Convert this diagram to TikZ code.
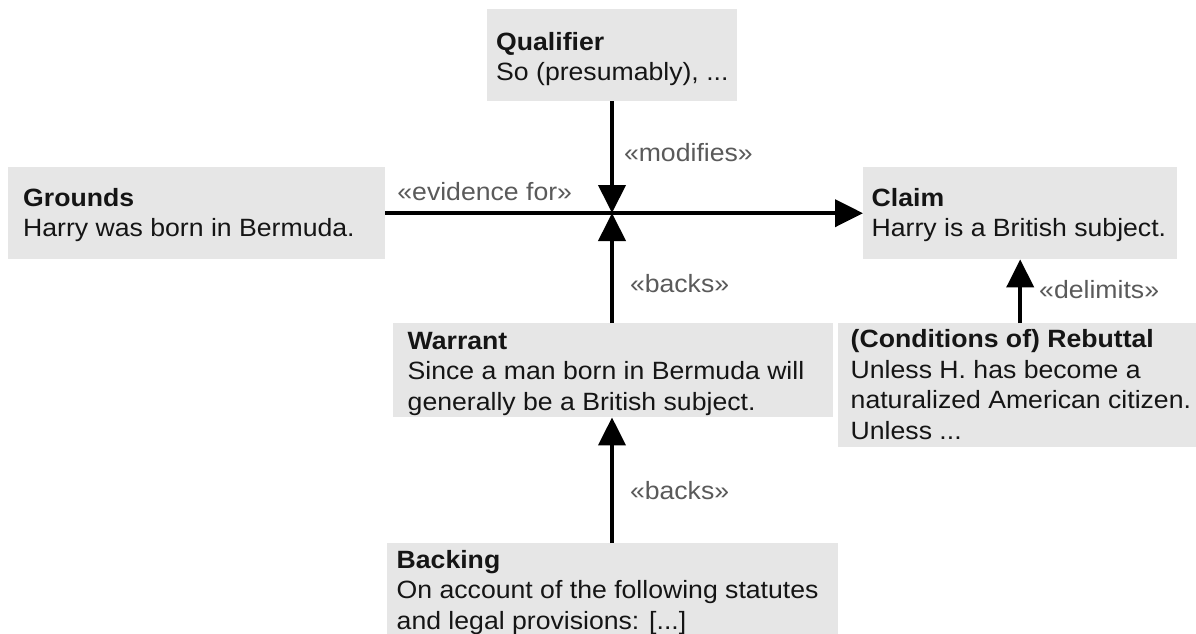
\documentclass[tikz,border=0pt]{standalone}
\usepackage{fontspec}
\setmainfont[FakeStretch=1.065]{Liberation Sans}
\usetikzlibrary{arrows.meta}
\definecolor{boxgray}{HTML}{E6E6E6}
\definecolor{txtcol}{HTML}{151515}
\definecolor{lblcol}{HTML}{5A5A5A}
\newcommand{\firstline}{\rule{0pt}{20pt}}
\tikzset{
  box/.style={fill=boxgray, draw=none, inner sep=0pt, anchor=north west},
  txt/.style={anchor=north west, align=left, inner sep=0pt, text=txtcol, font=\fontsize{25}{30.5}\selectfont},
  lbl/.style={inner sep=0pt, text=lblcol, font=\fontsize{25}{30.5}\selectfont},
  arr/.style={line width=4pt, -{Triangle[length=28pt,width=27pt]}}
}
\begin{document}
\begin{tikzpicture}[x=1pt,y=-1pt]
\useasboundingbox (0,0) rectangle (1196,634);
% boxes
\node[box, minimum width=250pt, minimum height=92pt] (qual) at (487,9) {};
\node[box, minimum width=377pt, minimum height=92pt] (grounds) at (8,167) {};
\node[box, minimum width=314pt, minimum height=92pt] (claim) at (863,167) {};
\node[box, minimum width=440pt, minimum height=94pt] (warrant) at (393,323) {};
\node[box, minimum width=358pt, minimum height=124pt] (rebuttal) at (838,323) {};
\node[box, minimum width=451pt, minimum height=91pt] (backing) at (387,543) {};
% texts (anchored 20pt above the first baseline)
\node[txt] (qualT) at (496,30) {\firstline\textbf{Qualifier}\\So (presumably), ...};
\node[txt] (groundsT) at (23,186) {\firstline\textbf{Grounds}\\Harry was born in Bermuda.};
\node[txt] (claimT) at (871.5,186) {\firstline\textbf{Claim}\\Harry is a British subject.};
\node[txt] (warrantT) at (407.5,329) {\firstline\textbf{Warrant}\\Since a man born in Bermuda will\\generally be a British subject.};
\node[txt] (rebuttalT) at (850.5,327.5) {\firstline\textbf{(Conditions of) Rebuttal}\\Unless H. has become a\\naturalized American citizen.\\Unless ...};
\node[txt] (backingT) at (396.5,548) {\firstline\textbf{Backing}\\On account of the following statutes\\and legal provisions: [...]};
% junction
\coordinate (j) at (612,213);
% connectors
\draw[arr] (grounds.east) -- node[lbl, pos=0.208, yshift=22pt] (lEv) {«evidence for»} (claim.west);
\draw[arr] (qual.south -| j) -- node[lbl, pos=0.46, anchor=west, xshift=10pt] (lMod) {«modifies»} (j);
\draw[arr] (warrant.north -| j) -- node[lbl, pos=0.36, anchor=west, xshift=16pt] (lB1) {«backs»} (j);
\draw[arr] (backing.north -| j) -- node[lbl, pos=0.42, anchor=west, xshift=16pt] (lB2) {«backs»} (warrant.south -| j);
\draw[arr] (rebuttal.north -| claim.south) -- node[lbl, pos=0.52, anchor=west, xshift=17pt] (lDel) {«delimits»} (claim.south);
\end{tikzpicture}
\end{document}
